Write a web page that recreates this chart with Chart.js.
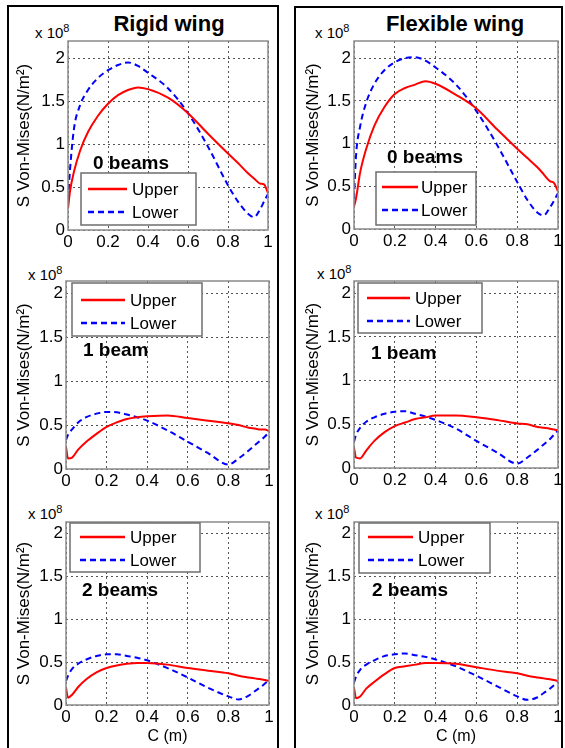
<!DOCTYPE html>
<html>
<head>
<meta charset="utf-8">
<script src="https://cdn.jsdelivr.net/npm/chart.js@4.4.0/dist/chart.umd.min.js"></script>
<style>
html, body { margin: 0; padding: 0; background: #fff; overflow: hidden; width: 565px; height: 748px; }
body { position: relative; font-family: "Liberation Sans", Arial, sans-serif; color: #000; }
.col { position: absolute; border: 2px solid #000; box-sizing: border-box; }
canvas { position: absolute; }
.head { position: absolute; font-weight: bold; font-size: 22px; transform: translate(-50%, -50%); white-space: nowrap; }
.tag { position: absolute; font-weight: bold; font-size: 19px; transform: translateY(-50%); white-space: nowrap; }
.mult { position: absolute; font-size: 15px; transform: translateY(-50%); white-space: nowrap; }
.mult sup { font-size: 11px; }
</style>
</head>
<body>
<div class="col" style="left:7px; top:5px; width:272px; height:760px;"></div>
<div class="col" style="left:294px; top:6px; width:269px; height:760px;"></div>

<div class="head" style="left:169px; top:24px;">Rigid wing</div>
<div class="head" style="left:455px; top:24px;">Flexible wing</div>

<div class="mult" style="left:35px; top:31px;">x 10<sup>8</sup></div>
<div class="mult" style="left:315px; top:31px;">x 10<sup>8</sup></div>
<div class="mult" style="left:28px; top:273px;">x 10<sup>8</sup></div>
<div class="mult" style="left:317px; top:272px;">x 10<sup>8</sup></div>
<div class="mult" style="left:28px; top:512px;">x 10<sup>8</sup></div>
<div class="mult" style="left:315px; top:512px;">x 10<sup>8</sup></div>

<script>
var cPoints = [0, 0.01, 0.03, 0.06, 0.1, 0.15, 0.2, 0.25, 0.3, 0.35, 0.4, 0.5, 0.6, 0.7, 0.8, 0.85, 0.9, 0.93, 0.96, 0.98, 1];

// stress values, in units of 1e8 N/m^2
var rigid0Upper = [0.25, 0.45, 0.68, 0.92, 1.14, 1.33, 1.47, 1.57, 1.63, 1.66, 1.64, 1.54, 1.36, 1.12, 0.89, 0.78, 0.66, 0.60, 0.54, 0.53, 0.43];
var rigid0Lower = [0.35, 0.70, 1.18, 1.45, 1.63, 1.77, 1.86, 1.92, 1.95, 1.91, 1.83, 1.65, 1.36, 0.97, 0.52, 0.33, 0.19, 0.15, 0.24, 0.33, 0.42];
var flex0Upper = [0.26, 0.36, 0.66, 0.94, 1.21, 1.43, 1.58, 1.65, 1.69, 1.73, 1.70, 1.57, 1.41, 1.17, 0.94, 0.83, 0.72, 0.64, 0.56, 0.54, 0.44];
var flex0Lower = [0.35, 0.86, 1.20, 1.48, 1.70, 1.86, 1.95, 2.00, 2.01, 1.97, 1.89, 1.69, 1.38, 0.99, 0.55, 0.34, 0.19, 0.16, 0.25, 0.33, 0.42];
var rigid1Upper = [0.25, 0.12, 0.13, 0.22, 0.31, 0.40, 0.48, 0.53, 0.57, 0.59, 0.60, 0.61, 0.58, 0.55, 0.52, 0.50, 0.47, 0.46, 0.45, 0.45, 0.43];
var rigid1Lower = [0.33, 0.39, 0.45, 0.53, 0.59, 0.63, 0.65, 0.645, 0.62, 0.59, 0.55, 0.44, 0.31, 0.18, 0.05, 0.12, 0.21, 0.27, 0.33, 0.37, 0.42];
var flex1Upper = [0.23, 0.12, 0.11, 0.20, 0.31, 0.41, 0.48, 0.52, 0.56, 0.58, 0.60, 0.60, 0.58, 0.55, 0.51, 0.50, 0.47, 0.46, 0.45, 0.44, 0.43];
var flex1Lower = [0.30, 0.38, 0.46, 0.53, 0.58, 0.62, 0.645, 0.65, 0.62, 0.59, 0.55, 0.45, 0.31, 0.18, 0.05, 0.12, 0.21, 0.27, 0.33, 0.38, 0.43];
var rigid2Upper = [0.20, 0.085, 0.12, 0.21, 0.30, 0.38, 0.43, 0.46, 0.48, 0.49, 0.49, 0.47, 0.43, 0.40, 0.37, 0.34, 0.32, 0.31, 0.30, 0.29, 0.28];
var rigid2Lower = [0.28, 0.34, 0.42, 0.48, 0.53, 0.57, 0.59, 0.59, 0.57, 0.55, 0.52, 0.43, 0.32, 0.20, 0.10, 0.065, 0.11, 0.16, 0.21, 0.25, 0.29];
var flex2Upper = [0.20, 0.08, 0.10, 0.19, 0.27, 0.36, 0.43, 0.45, 0.47, 0.49, 0.49, 0.48, 0.44, 0.40, 0.37, 0.34, 0.32, 0.31, 0.30, 0.29, 0.28];
var flex2Lower = [0.26, 0.33, 0.41, 0.47, 0.52, 0.57, 0.59, 0.60, 0.58, 0.56, 0.53, 0.45, 0.34, 0.22, 0.10, 0.06, 0.09, 0.14, 0.19, 0.23, 0.27];

var xTickValues = [0, 0.2, 0.4, 0.6, 0.8, 1];
var xTickLabels = ['0', '0.2', '0.4', '0.6', '0.8', '1'];
var yTickValues = [0, 0.5, 1, 1.5, 2];
var yTickLabels = ['0', '0.5', '1', '1.5', '2'];

var seriesNames = ['Upper', 'Lower'];
var FONT = '"Liberation Sans", Arial, sans-serif';
var PAD_TOP = 14, PAD_RIGHT = 8;

// plot boxes and legend placement for each panel
var panels = [
  { plot: {left: 68, top: 41, right: 268, bottom: 230}, yMax: 2.2, axisLeft: 9, upper: rigid0Upper, lower: rigid0Lower,
    legend: {x: 13, y: 132, w: 115, h: 52, line0: 7, line1: 46, text: 51, row0: 16, row1: 39}, xTitle: false, tag: '0 beams', tagPos: [93, 163] },
  { plot: {left: 354, top: 41, right: 558, bottom: 229}, yMax: 2.2, axisLeft: 298, upper: flex0Upper, lower: flex0Lower,
    legend: {x: 22, y: 131, w: 100, h: 53, line0: 6, line1: 42, text: 45, row0: 15, row1: 38}, xTitle: false, tag: '0 beams', tagPos: [387, 157] },
  { plot: {left: 66, top: 281, right: 269, bottom: 469}, yMax: 2.14, axisLeft: 9, upper: rigid1Upper, lower: rigid1Lower,
    legend: {x: 6, y: 2, w: 130, h: 53, line0: 9, line1: 53, text: 58, row0: 17, row1: 40}, xTitle: false, tag: '1 beam', tagPos: [83, 350] },
  { plot: {left: 354, top: 281, right: 558, bottom: 468}, yMax: 2.14, axisLeft: 298, upper: flex1Upper, lower: flex1Lower,
    legend: {x: 4, y: 2, w: 124, h: 50, line0: 9, line1: 52, text: 57, row0: 15, row1: 38}, xTitle: false, tag: '1 beam', tagPos: [371, 353] },
  { plot: {left: 66, top: 522, right: 269, bottom: 705}, yMax: 2.13, axisLeft: 9, upper: rigid2Upper, lower: rigid2Lower,
    legend: {x: 4, y: 1, w: 130, h: 49, line0: 10, line1: 55, text: 60, row0: 14, row1: 37}, xTitle: true, tag: '2 beams', tagPos: [82, 590] },
  { plot: {left: 354, top: 522, right: 558, bottom: 705}, yMax: 2.13, axisLeft: 298, upper: flex2Upper, lower: flex2Lower,
    legend: {x: 5, y: 1, w: 131, h: 50, line0: 9, line1: 54, text: 59, row0: 14, row1: 37}, xTitle: true, tag: '2 beams', tagPos: [372, 590] }
];

// draws the grey axes box and the matlab style legend inside the plot
var matlabBox = {
  id: 'matlabBox',
  afterDraw: function (chart) {
    var a = chart.chartArea, ctx = chart.ctx;
    var lg = chart.options.plugins.matlabBox;
    ctx.save();
    ctx.setLineDash([]);
    ctx.strokeStyle = '#8a8a8a';
    ctx.lineWidth = 1.5;
    ctx.strokeRect(a.left, a.top, a.right - a.left, a.bottom - a.top);

    var bx = a.left + lg.x, by = a.top + lg.y;
    ctx.fillStyle = '#fff';
    ctx.fillRect(bx, by, lg.w, lg.h);
    ctx.strokeStyle = '#6e6e6e';
    ctx.strokeRect(bx, by, lg.w, lg.h);

    chart.data.datasets.forEach(function (ds, i) {
      var yy = by + (i === 0 ? lg.row0 : lg.row1);
      ctx.strokeStyle = ds.borderColor;
      ctx.lineWidth = 2.5;
      ctx.setLineDash(ds.borderDash || []);
      ctx.beginPath();
      ctx.moveTo(bx + lg.line0, yy);
      ctx.lineTo(bx + lg.line1, yy);
      ctx.stroke();
      ctx.setLineDash([]);
      ctx.fillStyle = '#000';
      ctx.font = '17px ' + FONT;
      ctx.textBaseline = 'middle';
      ctx.textAlign = 'left';
      ctx.fillText(ds.label, bx + lg.text, yy + 1);
    });
    ctx.restore();
  }
};

function makePanel(p) {
  var xAxisH = p.xTitle ? 41 : 24;
  var cLeft = p.axisLeft;
  var cTop = p.plot.top - PAD_TOP;
  var w = p.plot.right + PAD_RIGHT - cLeft;
  var h = p.plot.bottom + xAxisH - cTop;
  var yAxisW = p.plot.left - cLeft;

  var canvas = document.createElement('canvas');
  canvas.width = w;
  canvas.height = h;
  canvas.style.left = cLeft + 'px';
  canvas.style.top = cTop + 'px';
  canvas.style.width = w + 'px';
  canvas.style.height = h + 'px';
  document.body.appendChild(canvas);

  var tag = document.createElement('div');
  tag.className = 'tag';
  tag.style.left = p.tagPos[0] + 'px';
  tag.style.top = p.tagPos[1] + 'px';
  tag.textContent = p.tag;
  document.body.appendChild(tag);

  new Chart(canvas, {
    type: 'line',
    data: {
      datasets: [
        {
          label: seriesNames[0],
          data: cPoints.map(function (c, i) { return {x: c, y: p.upper[i]}; }),
          borderColor: '#ff0000',
          borderWidth: 2,
          pointRadius: 0,
          cubicInterpolationMode: 'monotone',
          fill: false
        },
        {
          label: seriesNames[1],
          data: cPoints.map(function (c, i) { return {x: c, y: p.lower[i]}; }),
          borderColor: '#0000ff',
          borderWidth: 2,
          borderDash: [6, 4],
          pointRadius: 0,
          cubicInterpolationMode: 'monotone',
          fill: false
        }
      ]
    },
    options: {
      responsive: false,
      animation: false,
      devicePixelRatio: 1,
      layout: { padding: { top: PAD_TOP, right: PAD_RIGHT, left: 0, bottom: 0 } },
      plugins: {
        legend: { display: false },
        tooltip: { enabled: false },
        matlabBox: p.legend
      },
      scales: {
        x: {
          type: 'linear',
          min: 0,
          max: 1,
          afterBuildTicks: function (s) { s.ticks = xTickValues.map(function (v) { return {value: v}; }); },
          afterFit: function (s) { s.height = xAxisH; },
          ticks: {
            color: '#000',
            padding: 2,
            maxRotation: 0,
            autoSkip: false,
            font: { size: 17, family: FONT },
            callback: function (v, i) { return xTickLabels[i]; }
          },
          grid: { color: '#555', lineWidth: 1, drawTicks: false },
          border: { display: false, dash: [2, 3] },
          title: {
            display: p.xTitle,
            text: 'C (m)',
            color: '#000',
            font: { size: 16, family: FONT },
            padding: { top: 0, bottom: 0 }
          }
        },
        y: {
          type: 'linear',
          min: 0,
          max: p.yMax,
          afterBuildTicks: function (s) { s.ticks = yTickValues.map(function (v) { return {value: v}; }); },
          afterFit: function (s) { s.width = yAxisW; },
          ticks: {
            color: '#000',
            padding: 3,
            autoSkip: false,
            font: { size: 17, family: FONT },
            callback: function (v, i) { return yTickLabels[i]; }
          },
          grid: { color: '#555', lineWidth: 1, drawTicks: false },
          border: { display: false, dash: [2, 3] },
          title: {
            display: true,
            text: 'S Von-Mises(N/m²)',
            color: '#000',
            font: { size: 17, family: FONT },
            padding: { top: 5, bottom: 0 }
          }
        }
      }
    },
    plugins: [matlabBox]
  });
}

panels.forEach(makePanel);
</script>
</body>
</html>
